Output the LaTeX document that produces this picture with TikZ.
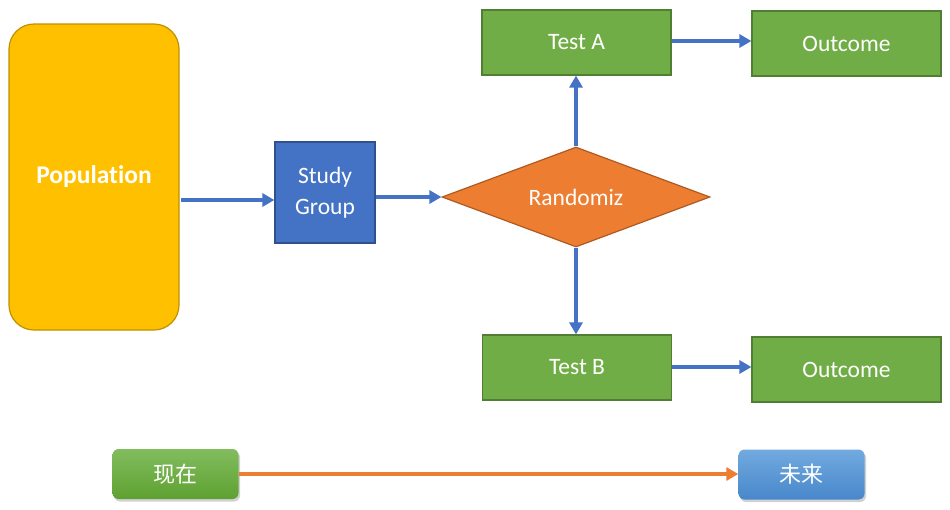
\documentclass[tikz,border=0pt]{standalone}
\usepackage{fontspec}
\setmainfont{Carlito}[Ligatures={NoCommon}]
\newfontfamily\cjk{Noto Sans CJK SC}
\usetikzlibrary{arrows.meta,shapes.geometric,shadows}
\definecolor{popfill}{HTML}{FFC000}
\definecolor{popdraw}{HTML}{BF9000}
\definecolor{bluefill}{HTML}{4472C4}
\definecolor{bluedraw}{HTML}{2F528F}
\definecolor{orfill}{HTML}{ED7D31}
\definecolor{ordraw}{HTML}{AE5A21}
\definecolor{grfill}{HTML}{70AD47}
\definecolor{grdraw}{HTML}{507E32}
\definecolor{btngtop}{HTML}{82BD5E}
\definecolor{btngbot}{HTML}{5EA131}
\definecolor{btnbtop}{HTML}{72AADF}
\definecolor{btnbbot}{HTML}{4887CB}
\tikzset{
  box/.style={rectangle, inner sep=0pt, line width=1.2pt, text=white, font=\fontsize{23.5}{28}\selectfont, align=center},
  greenbox/.style={box, fill=grfill, draw=grdraw, minimum width=189pt, minimum height=65pt},
  conn/.style={line width=3.8pt, draw=bluefill, -{Triangle[length=12pt,width=13pt]}},
  btn/.style={rectangle, rounded corners=6pt, inner sep=0pt, minimum width=126pt, minimum height=50pt, text=white, font=\cjk\fontsize{22}{26}\selectfont, drop shadow={shadow xshift=1.5pt, shadow yshift=-2.5pt, opacity=0.3, fill=black!60}}
}
\begin{document}
\begin{tikzpicture}[x=1pt,y=-1pt]
\useasboundingbox (0,0) rectangle (950,509);
\node[box, fill=popfill, draw=popdraw, rounded corners=25pt, minimum width=170pt, minimum height=306pt, font=\bfseries\fontsize{25.5}{30}\selectfont] (pop) at (94,177) {Population};
\node[box, fill=bluefill, draw=bluedraw, minimum width=100pt, minimum height=101pt, font=\fontsize{23.5}{31}\selectfont] (study) at (325,192.5) {Study\\Group};
\node[diamond, inner sep=0pt, minimum width=268pt, minimum height=100pt, fill=orfill, draw=ordraw, line width=1.2pt,
  label={[text=white, font=\fontsize{23.5}{28}\selectfont]center:Randomiz}] (rand) at (576,197) {};
\node[greenbox] (testa) at (576.5,42.5) {Test A};
\node[greenbox] (outa) at (846.5,43.5) {Outcome};
\node[greenbox] (testb) at (577,367.5) {Test B};
\node[greenbox] (outb) at (846.5,369.5) {Outcome};
\node[btn, top color=btngtop, bottom color=btngbot] (now) at (175.5,474) {现在};
\node[btn, top color=btnbtop, bottom color=btnbbot] (fut) at (801.5,474.5) {未来};
\coordinate (ps) at (181,200);
\draw[conn] (ps) -- (study.west |- ps);
\draw[conn] (study.east |- rand.west) -- (rand.west);
\draw[conn] (rand.north) -- (testa.south -| rand.north);
\draw[conn] (rand.south) -- (testb.north -| rand.south);
\draw[conn] (testa.east |- 0,41) -- (outa.west |- 0,41);
\draw[conn] (testb.east |- 0,367) -- (outb.west |- 0,367);
\draw[line width=3.8pt, draw=orfill, -{Triangle[length=12pt,width=13pt]}] (now.east) -- (fut.west |- now.east);
\end{tikzpicture}
\end{document}
